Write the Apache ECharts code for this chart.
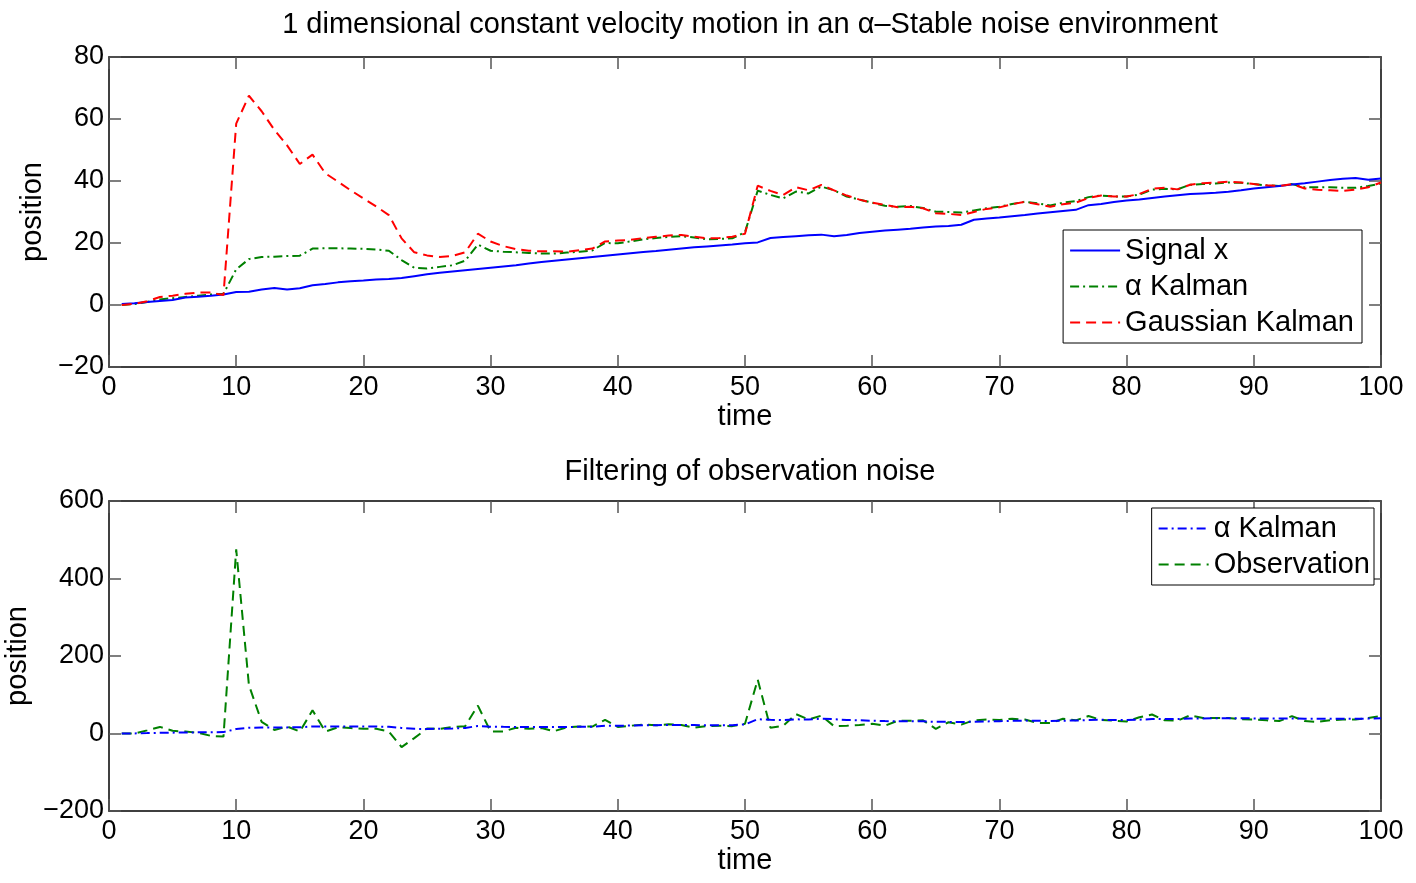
<!DOCTYPE html>
<html>
<head>
<meta charset="utf-8">
<script src="https://cdn.jsdelivr.net/npm/echarts@6/dist/echarts.min.js"></script>
<style>
  html, body { margin: 0; padding: 0; background: #fff; }
  #chart { width: 1416px; height: 883px; }
</style>
</head>
<body>
<div id="chart"></div>
<script>
// time steps 1..100
var steps = [];
for (var k = 1; k <= 100; k++) steps.push(k);

var signalX = [
  0.3, 0.6, 1.0, 1.3, 1.6, 2.4, 2.7, 3.0, 3.4, 4.2,
  4.3, 5.0, 5.5, 5.0, 5.4, 6.4, 6.8, 7.3, 7.7, 7.9,
  8.2, 8.4, 8.7, 9.3, 9.9, 10.4, 10.8, 11.2, 11.6, 12.0,
  12.4, 12.8, 13.4, 13.9, 14.3, 14.7, 15.1, 15.5, 15.9, 16.3,
  16.7, 17.1, 17.4, 17.8, 18.2, 18.6, 18.9, 19.2, 19.5, 19.9,
  20.2, 21.6, 21.9, 22.2, 22.5, 22.7, 22.2, 22.6, 23.2, 23.6,
  24.0, 24.3, 24.6, 25.0, 25.3, 25.5, 25.9, 27.5, 27.9, 28.2,
  28.6, 29.0, 29.5, 29.9, 30.3, 30.7, 32.2, 32.6, 33.2, 33.7,
  34.0, 34.5, 35.0, 35.4, 35.8, 36.0, 36.2, 36.5, 37.0, 37.6,
  38.0, 38.4, 38.9, 39.3, 39.8, 40.3, 40.7, 41.0, 40.4, 40.8
];

var alphaKalman = [
  0.0, 0.3, 1.0, 1.8, 2.2, 2.6, 3.0, 3.4, 3.6, 11.5,
  14.8, 15.5, 15.6, 15.8, 15.9, 18.2, 18.3, 18.3, 18.2, 18.1,
  17.9, 17.5, 14.5, 12.0, 11.8, 12.3, 12.8, 14.3, 19.5, 17.5,
  17.2, 17.0, 16.8, 16.6, 16.6, 16.9, 17.2, 17.6, 20.0, 19.9,
  20.5, 21.2, 21.6, 22.0, 22.2, 21.8, 21.2, 21.3, 21.5, 23.5,
  36.9, 35.5, 34.4, 36.6, 36.0, 38.2, 37.0, 35.0, 34.0, 33.0,
  32.0, 31.7, 31.9, 31.3, 30.1, 30.0, 29.8, 30.5, 31.2, 31.7,
  32.6, 33.3, 32.8, 32.1, 33.0, 33.5, 34.8, 35.3, 35.0, 35.0,
  35.6, 37.2, 37.5, 37.3, 38.8, 39.0, 39.2, 39.5, 39.4, 39.0,
  38.6, 38.4, 39.0, 38.0, 38.0, 38.0, 37.8, 37.8, 38.4, 39.2
];

var gaussKalman = [
  0.0, 0.4, 1.2, 2.6, 3.0, 3.6, 4.0, 4.0, 3.2, 58.5,
  67.5, 62.5, 56.5, 51.5, 45.5, 48.5, 42.5, 39.8, 37.0, 34.4,
  31.8, 29.0, 21.5, 17.0, 16.0, 15.5, 15.8, 17.0, 23.0, 20.5,
  19.0, 18.0, 17.5, 17.3, 17.3, 17.2, 17.7, 18.2, 20.5, 20.8,
  21.0, 21.6, 22.0, 22.4, 22.6, 22.0, 21.5, 21.6, 22.0, 23.0,
  38.5, 36.8, 35.5, 38.0, 37.0, 38.7, 37.0, 35.3, 34.0, 33.0,
  32.3, 31.5, 31.7, 31.2, 29.6, 29.4, 29.0, 30.0, 31.0, 31.5,
  32.5, 33.3, 32.5, 31.7, 32.5, 33.0, 34.5, 35.3, 35.0, 35.0,
  35.8, 37.5, 37.8, 37.3, 38.8, 39.3, 39.5, 39.8, 39.5, 39.0,
  38.6, 38.4, 39.0, 37.6, 37.2, 37.0, 36.8, 37.2, 38.0, 39.5
];

var observation = [
  0, 0, 8, 17, 7, 5, 2, -6, -8, 475,
  125, 30, 9, 18, 5, 60, 5, 16, 14, 12,
  12, 5, -35, -12, 13, 12, 17, 19, 72, 5,
  5, 15, 12, 14, 6, 16, 18, 18, 35, 17,
  20, 23, 21, 24, 22, 15, 19, 20, 19, 25,
  139, 15, 20, 50, 36, 46, 19, 20, 22, 25,
  20, 33, 33, 34, 12, 29, 23, 34, 36, 35,
  38, 36, 27, 27, 38, 34, 45, 35, 33, 31,
  42, 49, 34, 33, 47, 40, 40, 40, 37, 36,
  34, 32, 45, 32, 30, 34, 36, 36, 40, 45
];

var xTicks = { min: 0, max: 100, interval: 10 };
var topTicks = { min: -20, max: 80, interval: 20 };
var bottomTicks = { min: -200, max: 600, interval: 200 };

function pairs(vals) {
  return steps.map(function (t, i) { return [t, vals[i]]; });
}

var FONT = '"Liberation Sans", Arial, sans-serif';
var fs = 29;      // titles, axis names, legend
var tickFs = 27;  // tick labels

function minusFmt(v) {
  return v < 0 ? '\u2212' + (-v) : String(v);
}

function xAxisFor(grid, pos, labels) {
  return {
    type: 'value', gridIndex: grid, position: pos,
    min: xTicks.min, max: xTicks.max, interval: xTicks.interval,
    name: labels ? 'time' : '', nameLocation: 'middle', nameGap: 35,
    nameTextStyle: { fontFamily: FONT, fontSize: fs, color: '#000' },
    axisLine: { show: true, onZero: false, lineStyle: { color: '#000', width: 1.5 } },
    axisTick: { show: true, inside: true, length: 12, lineStyle: { color: '#555', width: 1.5 } },
    axisLabel: { show: labels, margin: 7, fontFamily: FONT, fontSize: tickFs, color: '#000' },
    splitLine: { show: false }
  };
}

function yAxisFor(grid, pos, ticks, labels, gap) {
  return {
    type: 'value', gridIndex: grid, position: pos,
    min: ticks.min, max: ticks.max, interval: ticks.interval,
    name: labels ? 'position' : '', nameLocation: 'middle', nameGap: gap, nameRotate: 90,
    nameTextStyle: { fontFamily: FONT, fontSize: fs, color: '#000' },
    axisLine: { show: true, onZero: false, lineStyle: { color: '#000', width: 1.5 } },
    axisTick: { show: true, inside: true, length: 12, lineStyle: { color: '#555', width: 1.5 } },
    axisLabel: { show: labels, margin: 5, fontFamily: FONT, fontSize: tickFs, color: '#000', formatter: minusFmt },
    splitLine: { show: false }
  };
}

var dashDot = [9, 4, 2, 4];
var dashed = [10, 6];

var legendBase = {
  orient: 'vertical',
  itemWidth: 50, itemHeight: 14, itemGap: 7,
  borderColor: '#000', borderWidth: 1, backgroundColor: '#fff',
  itemStyle: { opacity: 0 },
  textStyle: { fontFamily: FONT, fontSize: fs, color: '#000', lineHeight: 29 }
};

var option = {
  animation: false,
  backgroundColor: '#fff',
  title: [
    {
      text: '1 dimensional constant velocity motion in an \u03b1\u2013Stable noise environment',
      left: 745, top: 5, textAlign: 'center',
      textStyle: { fontFamily: FONT, fontSize: fs, fontWeight: 'normal', color: '#000' }
    },
    {
      text: 'Filtering of observation noise',
      left: 745, top: 452, textAlign: 'center',
      textStyle: { fontFamily: FONT, fontSize: fs, fontWeight: 'normal', color: '#000' }
    }
  ],
  grid: [
    { left: 109, right: 35, top: 57, height: 310, outerBoundsMode: 'none' },
    { left: 109, right: 35, top: 501, height: 310, outerBoundsMode: 'none' }
  ],
  xAxis: [
    xAxisFor(0, 'bottom', true), xAxisFor(0, 'top', false),
    xAxisFor(1, 'bottom', true), xAxisFor(1, 'top', false)
  ],
  yAxis: [
    yAxisFor(0, 'left', topTicks, true, 60), yAxisFor(0, 'right', topTicks, false, 0),
    yAxisFor(1, 'left', bottomTicks, true, 77), yAxisFor(1, 'right', bottomTicks, false, 0)
  ],
  legend: [
    Object.assign({}, legendBase, {
      right: 54, top: 230,
      padding: [6, 8, 6, 6],
      data: ['Signal x', '\u03b1 Kalman', 'Gaussian Kalman']
    }),
    Object.assign({}, legendBase, {
      right: 42, top: 508,
      padding: [6, 4, 6, 6],
      data: ['\u03b1 Kalman (filtered)', 'Observation'],
      formatter: function (name) { return name === 'Observation' ? name : '\u03b1 Kalman'; }
    })
  ],
  series: [
    {
      name: 'Signal x', type: 'line', xAxisIndex: 0, yAxisIndex: 0,
      data: pairs(signalX), symbol: 'none', z: 3,
      lineStyle: { color: '#0000ff', width: 2, type: 'solid' },
      itemStyle: { color: '#0000ff' }
    },
    {
      name: '\u03b1 Kalman', type: 'line', xAxisIndex: 0, yAxisIndex: 0,
      data: pairs(alphaKalman), symbol: 'none', z: 2,
      lineStyle: { color: '#008000', width: 2, type: dashDot },
      itemStyle: { color: '#008000' }
    },
    {
      name: 'Gaussian Kalman', type: 'line', xAxisIndex: 0, yAxisIndex: 0,
      data: pairs(gaussKalman), symbol: 'none', z: 4,
      lineStyle: { color: '#ff0000', width: 2, type: dashed },
      itemStyle: { color: '#ff0000' }
    },
    {
      name: '\u03b1 Kalman (filtered)', type: 'line', xAxisIndex: 2, yAxisIndex: 2,
      data: pairs(alphaKalman), symbol: 'none', z: 3,
      lineStyle: { color: '#0000ff', width: 2, type: dashDot },
      itemStyle: { color: '#0000ff' }
    },
    {
      name: 'Observation', type: 'line', xAxisIndex: 2, yAxisIndex: 2,
      data: pairs(observation), symbol: 'none', z: 2,
      lineStyle: { color: '#008000', width: 2, type: dashed },
      itemStyle: { color: '#008000' }
    }
  ]
};

var chart = echarts.init(document.getElementById('chart'));
chart.setOption(option);
</script>
</body>
</html>
